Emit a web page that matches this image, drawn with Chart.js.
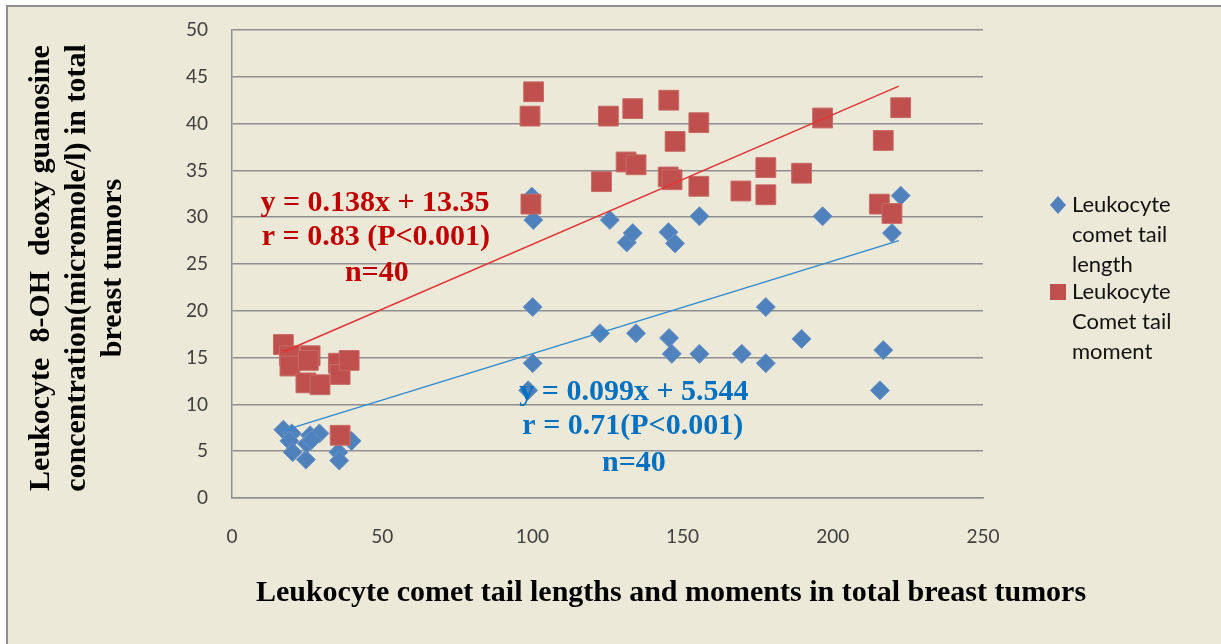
<!DOCTYPE html>
<html>
<head>
<meta charset="utf-8">
<script src="https://cdn.jsdelivr.net/npm/chart.js@4/dist/chart.umd.min.js"></script>
<style>
  html, body { margin: 0; padding: 0; background: #fff; }
  #wrap { width: 1221px; height: 644px; }
</style>
</head>
<body>
<div id="wrap"><canvas id="chart" width="1221" height="644"></canvas></div>
<script>
// comet tail length vs 8-OH dG (blue diamonds)
const lengthX = [17.1, 19.9, 19.1, 20.2, 24.6, 26, 29.1, 24.9, 26.5, 35.4, 35.7, 39.8,
  98.6, 100.1, 100.1, 99.8, 100.3, 122.5, 125.8, 131.4, 133.4, 134.5,
  145.3, 147.5, 145.5, 146.4, 155.6, 155.6, 169.7, 177.7, 177.7, 189.6,
  196.6, 215.7, 216.8, 219.7, 222.6];
const lengthY = [7.3, 6.9, 6.1, 4.9, 4.1, 6.7, 6.9, 5.8, 6.2, 4.9, 4.0, 6.1,
  11.5, 20.4, 14.4, 32.2, 29.7, 17.6, 29.7, 27.3, 28.3, 17.6,
  28.4, 27.2, 17.1, 15.4, 30.1, 15.4, 15.4, 20.4, 14.4, 17.0,
  30.1, 11.5, 15.8, 28.3, 32.3];

// comet tail moment vs 8-OH dG (red squares)
const momentX = [17.1, 19.1, 19.3, 26, 25.4, 24.6, 29.3, 35.4, 36, 39, 36,
  99.2, 100.4, 99.5, 123, 125.3, 131.2, 133.4, 134.5, 145.4, 145.2,
  146.5, 147.5, 155.4, 155.4, 169.4, 177.7, 177.7, 189.6, 196.6, 215.5,
  216.8, 219.7, 222.6];
const momentY = [16.4, 15.2, 14.1, 15.2, 14.7, 12.3, 12.1, 14.4, 13.2, 14.7, 6.7,
  40.8, 43.4, 31.4, 33.8, 40.8, 35.9, 41.6, 35.6, 42.5, 34.3,
  34.0, 38.1, 40.1, 33.3, 32.8, 35.3, 32.4, 34.7, 40.6, 31.4,
  38.2, 30.4, 41.7];

// trend line end points
const lengthTrendX = [17, 222];
const lengthTrendY = [7.2, 27.5];
const momentTrendX = [17, 222];
const momentTrendY = [15.6, 44.0];

const xTicks = [0, 50, 100, 150, 200, 250];
const yTicks = [0, 5, 10, 15, 20, 25, 30, 35, 40, 45, 50];

const legendLabels = [
  ['Leukocyte', 'comet tail', 'length'],
  ['Leukocyte', 'Comet tail', 'moment']
];

// equation labels: text lines with their anchor in data units
const momentNote = ['y = 0.138x + 13.35', 'r = 0.83 (P<0.001)', 'n=40'];
const momentNoteX = [47.6, 47.9, 48.2];
const momentNoteY = [31.5, 27.9, 24.0];
const lengthNote = ['y = 0.099x + 5.544', 'r = 0.71(P<0.001)', 'n=40'];
const lengthNoteX = [133.8, 133.4, 133.8];
const lengthNoteY = [11.3, 7.7, 3.7];

const BLUE = '#4F81BD';
const RED = '#C0504D';
const SERIF = '"Liberation Serif", "Times New Roman", serif';

function pts(xs, ys) {
  return xs.map((x, i) => ({ x: x, y: ys[i] }));
}

const decor = {
  id: 'decor',
  beforeDraw(chart) {
    const c = chart.ctx;
    c.save();
    c.fillStyle = '#fff';
    c.fillRect(0, 0, chart.width, chart.height);
    c.fillStyle = '#ECE9D8';
    c.fillRect(7, 5, chart.width, chart.height);
    c.fillStyle = '#8f8f8f';
    c.fillRect(7, 5, chart.width, 2);
    c.fillRect(6, 5, 2, chart.height);
    c.restore();
  },
  afterDraw(chart) {
    const c = chart.ctx;
    const xs = chart.scales.x, ys = chart.scales.y;
    c.save();

    // axis titles
    c.fillStyle = '#000';
    c.font = 'bold 30px ' + SERIF;
    c.textAlign = 'center';
    c.textBaseline = 'middle';
    c.fillText('Leukocyte comet tail lengths and moments in total breast tumors', 671, 593);

    const yTitle = ['Leukocyte  8-OH  deoxy guanosine', 'concentration(micromole/l) in total', 'breast tumors'];
    c.save();
    c.translate(0, 268);
    c.rotate(-Math.PI / 2);
    yTitle.forEach((t, i) => c.fillText(t, 0, 41 + i * 36));
    c.restore();

    // equations
    c.font = 'bold 30px ' + SERIF;
    c.fillStyle = '#C00000';
    momentNote.forEach((t, i) => c.fillText(t, xs.getPixelForValue(momentNoteX[i]), ys.getPixelForValue(momentNoteY[i])));
    c.fillStyle = '#0070C0';
    lengthNote.forEach((t, i) => c.fillText(t, xs.getPixelForValue(lengthNoteX[i]), ys.getPixelForValue(lengthNoteY[i])));

    // legend
    c.font = '22px Lato, "Open Sans", sans-serif';
    c.textAlign = 'left';
    c.fillStyle = '#111';
    const lx = 1072, ly = [205, 292];
    legendLabels.forEach((lines, k) => {
      lines.forEach((t, i) => c.fillText(t, lx, ly[k] + i * 30));
    });
    c.fillStyle = BLUE;
    c.beginPath();
    c.moveTo(1058, 196); c.lineTo(1066, 205); c.lineTo(1058, 214); c.lineTo(1050, 205);
    c.closePath(); c.fill();
    c.fillStyle = RED;
    c.fillRect(1050, 284, 16, 16);
    c.restore();
  }
};

const ctx = document.getElementById('chart').getContext('2d');
const chart = new Chart(ctx, {
  type: 'scatter',
  data: {
    datasets: [
      {
        label: 'moment trend',
        data: pts(momentTrendX, momentTrendY),
        showLine: true, pointRadius: 0, borderColor: '#E03434', borderWidth: 1.5, order: 0
      },
      {
        label: 'length trend',
        data: pts(lengthTrendX, lengthTrendY),
        showLine: true, pointRadius: 0, borderColor: '#2F8AD0', borderWidth: 1.5, order: 1
      },
      {
        label: 'Leukocyte Comet tail moment',
        data: pts(momentX, momentY),
        pointStyle: 'rect', pointRadius: 14, backgroundColor: RED, borderColor: '#c86a66', borderWidth: 1, order: 2
      },
      {
        label: 'Leukocyte comet tail length',
        data: pts(lengthX, lengthY),
        pointStyle: 'rectRot', pointRadius: 9.5, backgroundColor: BLUE, borderColor: '#6a93c6', borderWidth: 1, order: 3
      }
    ]
  },
  options: {
    responsive: false,
    animation: false,
    layout: { padding: { top: 30, right: 238, bottom: 0, left: 0 } },
    plugins: { legend: { display: false }, tooltip: { enabled: false } },
    scales: {
      x: {
        min: 0, max: 250,
        afterBuildTicks: s => { s.ticks = xTicks.map(v => ({ value: v })); },
        afterFit: s => { s.height = 146; },
        grid: { display: false, drawTicks: false },
        border: { display: true, color: '#8f8f8f', width: 1.5 },
        ticks: { padding: 27, color: '#404040', font: { family: 'Lato', size: 19 } }
      },
      y: {
        min: 0, max: 50,
        afterBuildTicks: s => { s.ticks = yTicks.map(v => ({ value: v })); },
        afterFit: s => { s.width = 232; },
        grid: { color: '#8f8f8f', lineWidth: 1.5, drawTicks: true, tickLength: 24, tickColor: 'rgba(0,0,0,0)' },
        border: { display: true, color: '#8f8f8f', width: 1.5 },
        ticks: { padding: 0, color: '#404040', font: { family: 'Lato', size: 19 } }
      }
    }
  },
  plugins: [decor]
});
</script>
</body>
</html>
